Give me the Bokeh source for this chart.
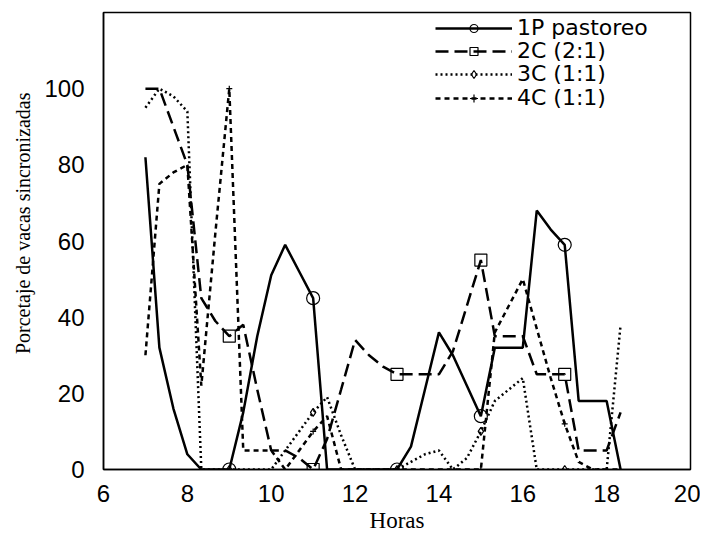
from bokeh.plotting import figure
from bokeh.models import Range1d, FixedTicker, Legend, LegendItem, Title, ColumnDataSource
from bokeh.embed import file_html
from bokeh.resources import INLINE

# ---------------- data ----------------
hours = [7.0, 7.333, 7.667, 8.0, 8.333, 8.667, 9.0, 9.333, 9.667, 10.0,
         10.333, 10.667, 11.0, 11.333, 11.667, 12.0, 12.333, 12.667, 13.0, 13.333,
         13.667, 14.0, 14.333, 14.667, 15.0, 15.333, 15.667, 16.0, 16.333, 16.667,
         17.0, 17.333, 17.667, 18.0, 18.333]

s1p_pastoreo = [82, 32, 16, 4, 0, 0, 0, 15, 35, 51,
                59, 52, 45, 0, 0, 0, 0, 0, 0, 6,
                21, 36, 30, 22, 14, 32, 32, 32, 68, 63,
                59, 18, 18, 18, 0]

s2c_21 = [100, 100, 90, 80, 45, 39, 35, 38, 21, 5,
          5, 3, 0, 8, 21, 34, 30, 27, 25, 25,
          25, 25, 31, 43, 55, 35, 35, 35, 25, 25,
          25, 5, 5, 5, 15]

s3c_11 = [95, 100, 98, 94, 0, 0, 0, 0, 0, 0,
          5, 10, 15, 19, 9, 0, 0, 0, 0, 2,
          4, 5, 0, 3, 10, 18, 21, 24, 0, 0,
          0, 0, 0, 0, 38]

s4c_11 = [30, 75, 78, 80, 22, 62, 100, 5, 5, 5,
          0, 5, 10, 14, 0, 0, 0, 0, 0, 0,
          0, 0, 0, 0, 0, 36, 43, 50, 37, 24,
          12, 2, 0, 0, 0]

marker_hours = [9.0, 11.0, 13.0, 15.0, 17.0]

series_names = ["1P pastoreo", "2C (2:1)", "3C (1:1)", "4C (1:1)"]
x_ticks = [6, 8, 10, 12, 14, 16, 18, 20]
y_ticks = [0, 20, 40, 60, 80, 100]
x_title = "Horas"
y_title = "Porcetaje de vacas sincronizadas"

# ---------------- figure ----------------
p = figure(width=700, height=539, output_backend="svg", toolbar_location=None,
           x_range=Range1d(6, 20), y_range=Range1d(0, 120),
           min_border_left=103, min_border_right=10, min_border_top=12,
           min_border_bottom=70)
p.background_fill_color = "white"
p.border_fill_color = "white"
p.outline_line_color = "black"
p.outline_line_width = 1.5
p.xgrid.visible = False
p.ygrid.visible = False

for ax in (p.xaxis[0], p.yaxis[0]):
    ax.axis_line_color = "black"
    ax.axis_line_width = 1.5
    ax.major_tick_out = 0
    ax.major_tick_in = 0
    ax.minor_tick_out = 0
    ax.minor_tick_in = 0
    ax.major_label_text_font = "Liberation Sans"
    ax.major_label_text_font_size = "24px"
    ax.major_label_text_color = "black"
p.xaxis[0].ticker = FixedTicker(ticks=x_ticks)
p.yaxis[0].ticker = FixedTicker(ticks=y_ticks)
p.xaxis[0].major_label_standoff = 15
p.yaxis[0].major_label_standoff = 19

p.xaxis[0].axis_label = x_title
p.xaxis[0].axis_label_text_font = "Liberation Serif"
p.xaxis[0].axis_label_text_font_style = "normal"
p.xaxis[0].axis_label_text_font_size = "23px"
p.xaxis[0].axis_label_text_color = "black"
p.xaxis[0].axis_label_standoff = 3

ytitle = Title(text=y_title, align="right", offset=80, standoff=16,
               text_font="Liberation Serif", text_font_size="20px",
               text_font_style="normal", text_color="black")
p.add_layout(ytitle, "left")

styles = [
    dict(dash="solid", marker="circle", msize=13),
    dict(dash="13 6", marker="square", msize=12),
    dict(dash="2 3", marker="diamond", msize=8),
    dict(dash="5 4", marker="cross", msize=6),
]
all_series = [s1p_pastoreo, s2c_21, s3c_11, s4c_11]

# legend row centres, measured from the frame top (px)
row_centres = [15, 38, 61, 85]
item_h = 26

for name, vals, st, rc in zip(series_names, all_series, styles, row_centres):
    src = ColumnDataSource(dict(x=hours, y=vals))
    mx = [h for h in hours if round(h, 2) in marker_hours]
    my = [v for h, v in zip(hours, vals) if round(h, 2) in marker_hours]
    msrc = ColumnDataSource(dict(x=mx, y=my))
    rl = p.line("x", "y", source=src, line_color="black", line_width=2.5,
                line_dash=st["dash"])
    rm = p.scatter("x", "y", source=msrc, marker=st["marker"], size=st["msize"],
                   line_color="black", line_width=1.2, fill_color=None)
    lg = Legend(items=[LegendItem(label=name, renderers=[rl, rm])],
                location=(332, 457 - rc - item_h // 2))
    lg.glyph_width = 77
    lg.glyph_height = 20
    lg.label_standoff = 5
    lg.label_text_font = "DejaVu Sans"
    lg.label_text_font_size = "22px"
    lg.label_text_color = "black"
    lg.padding = 0
    lg.margin = 0
    lg.border_line_color = None
    lg.background_fill_alpha = 0.0
    p.add_layout(lg, "center")

open("out.html", "w").write(file_html(p, INLINE))
